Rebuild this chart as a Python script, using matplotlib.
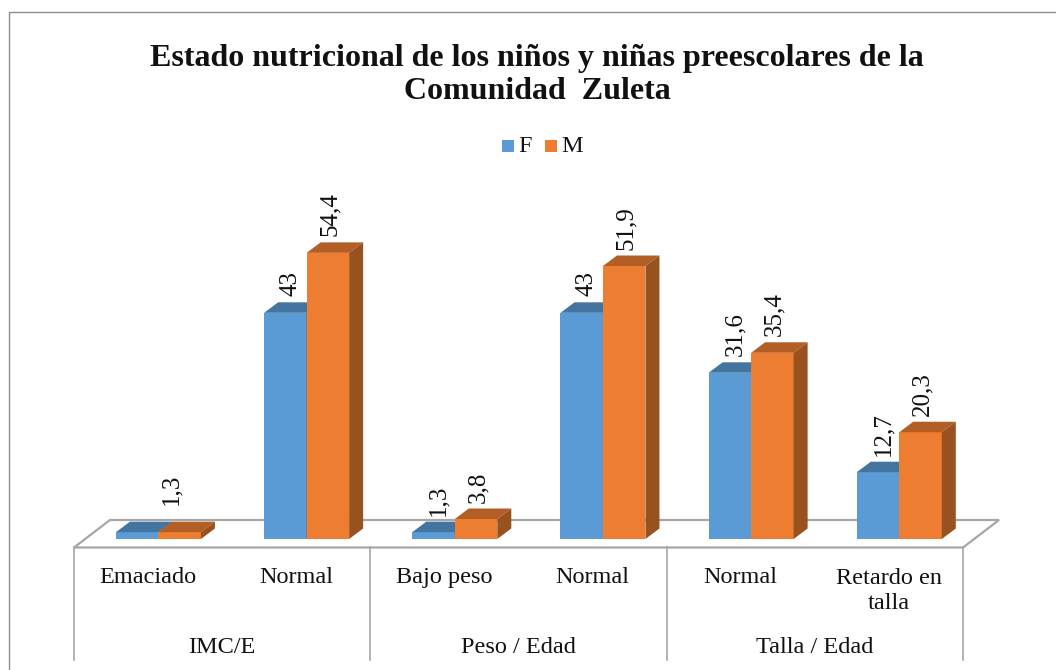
import matplotlib
matplotlib.use('Agg')
import matplotlib.pyplot as plt
from matplotlib.patches import Polygon, Rectangle

plt.rcParams['font.family'] = ['Liberation Serif', 'DejaVu Serif']

W, H = 1056, 670

categories = ['Emaciado', 'Normal', 'Bajo peso', 'Normal', 'Normal', 'Retardo en\ntalla']
groups = ['IMC/E', 'Peso / Edad', 'Talla / Edad']
values_f = [1.3, 43, 1.3, 43, 31.6, 12.7]
values_m = [1.3, 54.4, 3.8, 51.9, 35.4, 20.3]
labels_f = ['', '43', '1,3', '43', '31,6', '12,7']
labels_m = ['', '54,4', '3,8', '51,9', '35,4', '20,3']

BLUE = ('#5B9BD5', '#4475A0')
ORANGE = ('#ED7D31', '#B25E25')
SIDE = '#97521F'
GREY = '#A6A6A6'

PX_X = 148.17   # pixels for one category
PX_Y = 5.26     # pixels for one unit
X0, Y0 = 74, 539

fig = plt.figure(figsize=(W / 100, H / 100), dpi=100)
ax = fig.add_axes([X0 / W, 1 - Y0 / H, 889 / W, 340 / H])
ax.set_xlim(0, 6)
ax.set_ylim(0, 340 / PX_Y)
ax.axis('off')


def px(x, y):
    # pixel position in the picture -> figure fraction
    return x / W, 1 - y / H


# outer frame, runs off the picture on the right and at the bottom
fig.add_artist(plt.Line2D([8.5 / W, 8.5 / W, 1], [0, 1 - 11.5 / H, 1 - 11.5 / H], color='#8C8C8C', lw=1.0))

dx = 14 / PX_X
dy = 10.5 / PX_Y
bw = 42.5 / PX_X

# floor
fy = -8.5 / PX_Y
by = 19 / PX_Y
ax.add_patch(Polygon([(0, fy), (36 / PX_X, by), (6 + 36 / PX_X, by), (6, fy)], closed=True,
                     fc='white', ec=GREY, lw=1.6, clip_on=False, zorder=1))


def bar3d(x, v, cols, z):
    ax.add_patch(Rectangle((x, 0), bw, v, fc=cols[0], ec='none', clip_on=False, zorder=z))
    ax.add_patch(Polygon([(x, v), (x + dx, v + dy), (x + bw + dx, v + dy), (x + bw, v)], closed=True,
                         fc=cols[1], ec='none', clip_on=False, zorder=z))
    ax.add_patch(Polygon([(x + bw, 0), (x + bw + dx, dy), (x + bw + dx, v + dy), (x + bw, v)], closed=True,
                         fc=SIDE, ec='none', clip_on=False, zorder=z))


for i in range(6):
    c = i + 0.57
    bar3d(c - bw, values_f[i], BLUE, 3)
    bar3d(c, values_m[i], ORANGE, 4)
    ax.text(c - bw / 2 + 5 / PX_X, values_f[i] + dy + 6 / PX_Y, labels_f[i], rotation=90, ha='center', va='bottom',
            fontsize=18, color='#111111', zorder=6)
    ax.text(c + bw / 2 + 2 / PX_X, values_m[i] + dy + 6 / PX_Y, labels_m[i], rotation=90, ha='center', va='bottom',
            fontsize=18, color='#111111', zorder=6)
# the only label of the first group
ax.text(0.57 + 13 / PX_X, values_m[0] + dy + 17 / PX_Y, '1,3', rotation=90, ha='center', va='bottom',
        fontsize=18, color='#111111', zorder=6)

# multi level axis
for k in range(4):
    x = X0 + k * 2 * PX_X
    fig.add_artist(plt.Line2D([x / W, x / W], [1 - 547 / H, 1 - 660 / H], color=GREY, lw=1.2))

for i, cat in enumerate(categories):
    x, y = px(X0 + (i + 0.5) * PX_X, 583 if '\n' not in cat else 609)
    fig.text(x, y, cat, ha='center', va='baseline', fontsize=17.5, color='#111111', linespacing=1.27)
for j, g in enumerate(groups):
    x, y = px(X0 + (2 * j + 1) * PX_X, 653)
    fig.text(x, y, g, ha='center', va='baseline', fontsize=17.5, color='#111111')

# title
x, y = px(537, 75)
fig.text(x, y, 'Estado nutricional de los niños y niñas preescolares de la\nComunidad  Zuleta', ha='center',
         va='center', fontsize=23, fontweight='bold', color='#111111', linespacing=1.17)

# legend
for lx, col, name in [(502, BLUE[0], 'F'), (545, ORANGE[0], 'M')]:
    x, y = px(lx, 152)
    fig.add_artist(Rectangle((x, y), 12 / W, 12 / H, fc=col, ec='none', transform=fig.transFigure))
    x, y = px(lx + 16, 147)
    fig.text(x, y, name, ha='left', va='center', fontsize=17.5, color='#111111')

fig.savefig('out.png', dpi=100)
